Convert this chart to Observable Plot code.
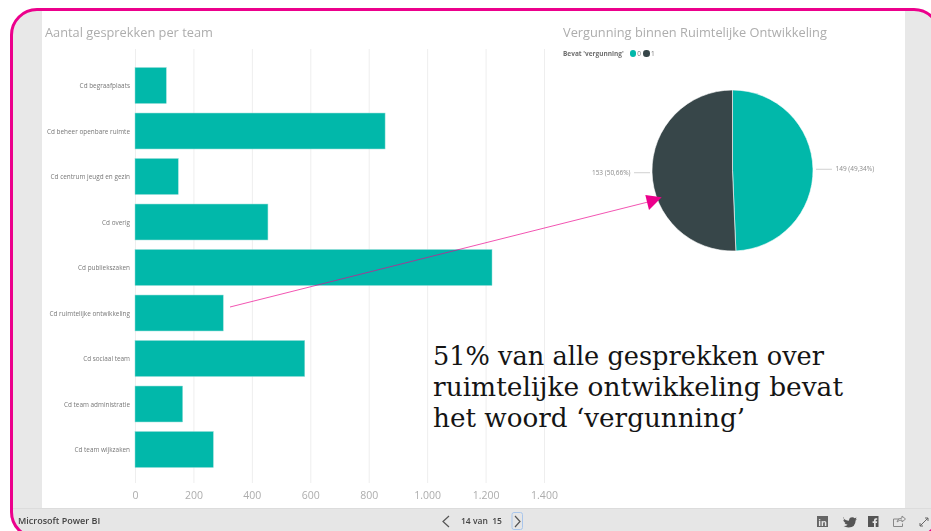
<!DOCTYPE html>
<html lang="nl">
<head>
<meta charset="utf-8">
<title>Gesprekken per team</title>
<script src="https://cdn.jsdelivr.net/npm/d3@7"></script>
<script src="https://cdn.jsdelivr.net/npm/@observablehq/plot@0.6"></script>
<style>
  html, body { margin: 0; padding: 0; background: #fff; }
  #page { position: relative; width: 931px; height: 531px; overflow: hidden; font-family: "Open Sans", sans-serif; }
  #page > * { position: absolute; }
  #frame { left: 10px; top: 9px; width: 930px; height: 530px; box-sizing: border-box; border-radius: 27px; overflow: hidden; background: #e8e8e8; }
  #canvas { left: 32px; top: 0; width: 863px; height: 499px; background: #fff; }
  #footer { left: 0; top: 499px; width: 100%; height: 40px; background: #e6e6e6; border-top: 1px solid #dcdcdc; }
  #border { left: 9.5px; top: 8px; width: 931px; height: 531px; box-sizing: border-box; border: 3px solid #ec008c; border-radius: 27px; }
  .title { font-size: 12.8px; color: #adadad; white-space: nowrap; line-height: 18px; }
  #legend { left: 563px; top: 49px; font-size: 6.5px; line-height: 10px; color: #777; white-space: nowrap; }
  #legend b { color: #6e6e6e; margin-right: 6px; }
  #legend i { display: inline-block; width: 6.5px; height: 6.5px; border-radius: 50%; vertical-align: -0.5px; margin-right: 1px; }
  #legend span { margin-right: 2.5px; }
  .bar-text { font-size: 9px; line-height: 12px; font-weight: 600; color: #444; white-space: nowrap; }
  /* The dashboard capture is slightly soft; the annotation on top of it is not */
  .soft { filter: blur(0.45px); }
  #bars, #pie { left: 0; top: 0; width: 931px; height: 531px; }
  #bars svg, #pie svg { position: absolute; background: transparent; }
</style>
</head>
<body>
<div id="page">
  <div id="frame"><div id="canvas" style="position:absolute"></div><div id="footer" style="position:absolute"></div></div>

  <div class="title soft" style="left:45px;top:23px">Aantal gesprekken per team</div>
  <div class="title soft" style="left:563px;top:23px">Vergunning binnen Ruimtelijke Ontwikkeling</div>
  <div id="legend" class="soft"><b>Bevat 'vergunning'</b><i style="background:#01b8aa"></i><span>0</span><i style="background:#374649"></i><span>1</span></div>

  <div id="bars" class="soft"></div>
  <div id="pie" class="soft"></div>

  <!-- annotation: arrow from the team bar to the pie, and the takeaway text -->
  <svg width="931" height="531" style="left:0;top:0">
    <line x1="230" y1="307" x2="652" y2="201" stroke="#ec008c" stroke-width="0.9" stroke-opacity="0.75"/>
    <polygon points="645.3,195 649,210 661.7,197.3" fill="#ec008c"/>
    <g font-family="'DejaVu Serif', serif" font-size="26" fill="#141414">
      <text x="433" y="365" textLength="391" lengthAdjust="spacingAndGlyphs">51% van alle gesprekken over</text>
      <text x="433" y="396" textLength="410" lengthAdjust="spacingAndGlyphs">ruimtelijke ontwikkeling bevat</text>
      <text x="433" y="427" textLength="312" lengthAdjust="spacingAndGlyphs">het woord ‘vergunning’</text>
    </g>
  </svg>

  <div id="border"></div>

  <!-- report viewer toolbar -->
  <div class="bar-text soft" style="left:18px;top:515px">Microsoft Power BI</div>
  <div class="bar-text soft" style="left:461px;top:515px;font-size:8.5px">14 van&nbsp; 15</div>
  <svg class="soft" width="931" height="531" style="left:0;top:0">
    <path d="M449 516 L443 521.5 L449 527" fill="none" stroke="#555" stroke-width="1.2"/>
    <rect x="512" y="512.5" width="10.5" height="17" rx="2" fill="#e6e6e6" stroke="#a9c6ec" stroke-width="1"/>
    <path d="M515 516 L520 521.5 L515 527" fill="none" stroke="#555" stroke-width="1.2"/>
    <rect x="817" y="516" width="11" height="11" fill="#666"/>
    <text x="822.5" y="525.5" text-anchor="middle" font-size="9" font-weight="700" fill="#e6e6e6">in</text>
    <path d="M843 518 q3 3 6 2.6 q0 -3.4 3.4 -3.4 q1.4 0 2.2 1 l2 -.6 l-1 1.8 l1.4 -.2 l-1.4 1.4 q0 6.8 -7 6.8 q-3 0 -5 -1.4 q2.6 .2 4 -1.2 q-2.6 -.4 -3.2 -2 l1.2 0 q-2.2 -1 -2.4 -3 l1.2 .4 q-1.4 -1.6 -.4 -3.2z" fill="#555"/>
    <rect x="868" y="516" width="10.5" height="11" fill="#555"/>
    <path d="M874 527 v-4 h-1.4 v-1.8 h1.4 v-1.2 q0 -1.8 1.8 -1.8 h1.4 v1.6 h-.9 q-.6 0 -.6 .6 v.8 h1.5 l-.2 1.8 h-1.3 v4z" fill="#e6e6e6"/>
    <path d="M899 519 h-5.5 v7.5 h9 v-3 M897 522 q.5 -4 5 -4 v-2 l3.5 3 l-3.5 3 v-2 q-3 0 -5 2z" fill="none" stroke="#888" stroke-width="1"/>
    <path d="M920 526 L928 518 M920 523 v3 h3 M925 518 h3 v3" fill="none" stroke="#666" stroke-width="1"/>
  </svg>
</div>

<script>
// Conversations per team
const teams = [
  "Cd begraafplaats", "Cd beheer openbare ruimte", "Cd centrum jeugd en gezin",
  "Cd overig", "Cd publiekszaken", "Cd ruimtelijke ontwikkeling",
  "Cd sociaal team", "Cd team administratie", "Cd team wijkzaken"
];
const conversations = [107, 856, 148, 455, 1222, 302, 581, 163, 268];
const xTicks = [0, 200, 400, 600, 800, 1000, 1200, 1400];

// Spatial development conversations, split on whether they mention "vergunning"
const permitKeys = ["0", "1"];
const permitCounts = [149, 153];
const permitLabels = ["149 (49,34%)", "153 (50,66%)"];

const TEAL = "#01b8aa";
const SLATE = "#374649";

const rows = teams.map((team, i) => ({team, value: conversations[i]}));
const dotThousands = d => d3.format(",")(d).replace(",", ".");

const barChart = Plot.plot({
  width: 931,
  height: 531,
  marginLeft: 135,
  marginRight: 387,
  marginTop: 49,
  marginBottom: 48,
  style: {background: "transparent", fontFamily: "'Open Sans', sans-serif"},
  x: {domain: [0, 1400], axis: null},
  y: {domain: teams, range: [62.75, 472.25], paddingInner: 0.21, paddingOuter: 0.105, round: false, axis: null},
  marks: [
    Plot.gridX(xTicks, {stroke: "#eeeeee", strokeOpacity: 1, strokeWidth: 1}),
    Plot.barX(rows, {x: "value", y: "team", fill: TEAL, stroke: "#8fdcd5", strokeWidth: 0.5}),
    Plot.axisY({
      domain: teams, anchor: "left", tickSize: 0, tickPadding: 5.5, label: null,
      fontSize: 6.4, color: "#777777"
    }),
    Plot.axisX(xTicks, {
      anchor: "bottom", tickSize: 0, tickPadding: 8, label: null,
      tickFormat: dotThousands, fontSize: 10.5, color: "#adadad"
    })
  ]
});
barChart.style.left = "0";
barChart.style.top = "0";
document.getElementById("bars").appendChild(barChart);

// Pie: drawn from the top clockwise, with leader lines at each slice's mid angle
const pieW = 345, pieH = 221, radius = 80.5;
const arcs = d3.pie().sort(null)(permitCounts);
const midAngle = a => (a.startAngle + a.endAngle) / 2;
const polar = (a, r) => [Math.sin(a) * r, Math.cos(a) * r];
const side = a => (Math.sin(midAngle(a)) >= 0 ? 1 : -1);

const leaders = arcs.map((a, i) => {
  const m = midAngle(a);
  const [x1, y1] = polar(m, radius + 2.5);
  return {x1, y1, x2: x1 + side(a) * 16, y2: y1, labelX: x1 + side(a) * 19.5, text: permitLabels[i], right: side(a) > 0};
});

const sliceMark = (index, {x, y}) => {
  const g = d3.create("svg:g")
    .attr("transform", `translate(${x(0)},${y(0)})`);
  const arc = d3.arc().innerRadius(0).outerRadius(x(radius) - x(0));
  g.selectAll("path").data(arcs).join("path")
    .attr("d", arc)
    .attr("fill", (d, i) => [TEAL, SLATE][i])
    .attr("stroke", "#fff").attr("stroke-width", 0.6)
    .attr("data-key", (d, i) => permitKeys[i]);
  return g.node();
};

const pieChart = Plot.plot({
  width: pieW,
  height: pieH,
  margin: 0,
  style: {background: "transparent", fontFamily: "'Open Sans', sans-serif"},
  x: {domain: [-pieW / 2, pieW / 2], axis: null},
  y: {domain: [-pieH / 2, pieH / 2], axis: null},
  marks: [
    sliceMark,
    Plot.link(leaders, {x1: "x1", y1: "y1", x2: "x2", y2: "y2", stroke: "#d0d0d0", strokeWidth: 1}),
    Plot.text(leaders.filter(d => d.right), {x: "labelX", y: "y1", text: "text", textAnchor: "start", fontSize: 6.5, fill: "#8a8a8a"}),
    Plot.text(leaders.filter(d => !d.right), {x: "labelX", y: "y1", text: "text", textAnchor: "end", fontSize: 6.5, fill: "#8a8a8a"})
  ]
});
pieChart.style.left = "560px";
pieChart.style.top = "60px";
document.getElementById("pie").appendChild(pieChart);
</script>
</body>
</html>
